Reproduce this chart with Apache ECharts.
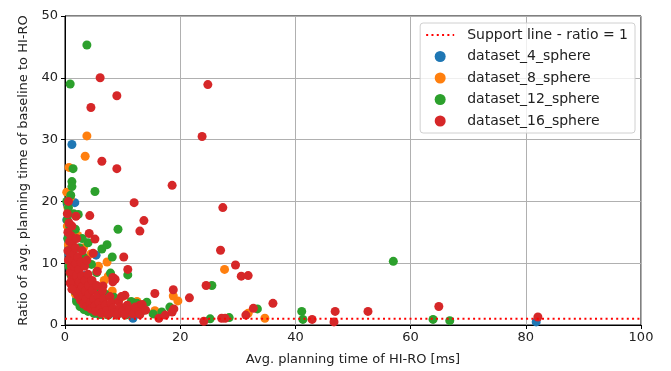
<!DOCTYPE html>
<html>
<head>
<meta charset="utf-8">
<script src="https://cdn.jsdelivr.net/npm/echarts@6/dist/echarts.min.js"></script>
<style>
  html, body { margin: 0; padding: 0; background: #fff; }
  #panel { width: 671px; height: 371px; }
</style>
</head>
<body>
<div id="panel"></div>
<script>
var seriesNames = ['dataset_4_sphere', 'dataset_8_sphere', 'dataset_12_sphere', 'dataset_16_sphere'];
var supportName = 'Support line - ratio = 1';
var supportLine = [[0, 1], [100, 1]];

var blue = [
  [1.2,29.2],[1.7,19.8],[11.8,1.1],[81.8,0.5],[5.4,11.3],[7.8,1.8],[0.3,17],[0.5,14],[0.7,11.5],
  [0.9,9],[1.2,7],[1.3,6],[2.0,4.2],[2.8,3.2],[4.0,2.4],[5.2,1.9],[6.5,1.7],[9.0,1.7],[3.5,8],
  [2.5,10],[4.5,6],[1.0,16],[0.4,19.5]
];
var orange = [
  [3.8,30.6],[3.5,27.3],[0.7,25.5],[0.9,20.6],[0.5,19],[27.7,9.0],[34.7,1.1],[31.8,1.9],[18.8,4.7],
  [19.6,3.9],[8.2,5.5],[15.6,2.3],[7.3,10.2],[7.5,7.9],[8.7,2.3],
  [0.3,21.5],[0.4,16],[0.6,13],[0.8,10],[1.1,8],[1.2,6.5],[1.8,5.0],[2.5,3.8],[3.3,2.9],[4.2,2.4],
  [5.5,2.0],[7.0,1.8],[9.5,2.0],[11.0,2.8],[12.5,3.8],[6.8,7.2],[5.8,9.5],[4.5,11.5],[3.2,12.5],
  [2.2,14.5],[10.0,4.6],[6.0,3.5]
];
var green = [
  [0.9,39.0],[3.8,45.3],[5.2,21.6],[1.4,25.3],[1.2,23.2],[1.2,22.4],[57,10.3],[25.5,6.4],[41.1,2.2],
  [41.3,0.9],[63.9,0.9],[66.8,0.7],[33.4,2.6],[25.2,1.0],[28.5,1.2],
  [0.3,20],[0.4,17],[0.5,14],[0.6,19],[0.8,16],[1.0,21],[0.6,12],[0.7,9.5],[1.0,8.2],[1.3,6.8],
  [1.7,5.5],[2.0,3.8],[2.6,3.0],[3.3,2.5],[4.0,2.2],[5.0,1.9],[6.0,1.7],[7.5,1.6],[9.0,1.6],[10.5,1.6],
  [11.6,3.1],[13.4,2.3],[14.2,3.7],[15.3,1.8],[16.8,2.1],[18.2,2.9],[2.5,12.5],[3.2,11.0],[4.0,13.3],
  [4.6,9.8],[5.5,8.5],[6.4,12.3],[7.3,13.0],[7.9,8.4],[8.2,11],[9.2,15.5],[10.9,8.1],[6.0,6.0],
  [7.0,5.0],[8.5,4.5],[11.5,3.8],[12.5,3.5],[1.5,18.0],[2.3,17.9],[1.8,15.5],[3.0,14.0]
];
var red = [
  [6.1,40.0],[4.5,35.2],[9.0,37.1],[24.8,38.9],[23.8,30.5],[6.4,26.5],[9.0,25.3],[27.4,19.0],
  [12.0,19.8],[13.7,16.9],[18.6,22.6],[13.0,15.2],[27.0,12.1],[29.6,9.7],[30.6,7.9],[31.8,8.0],
  [4.3,17.7],[1.9,17.6],[18.8,5.7],[15.6,5.1],[21.6,4.4],[24.5,6.4],[36.1,3.5],[32.7,2.7],[31.4,1.6],
  [46.9,2.2],[52.6,2.2],[42.9,0.9],[46.7,0.5],[64.9,3.0],[82.1,1.3],[24.1,0.6],[27.2,1.1],[27.8,1.1],
  [16.3,1.1],[17.4,1.6],[18.6,2.1],[18.9,2.6],[10.4,4.8],[10.9,9.0],[10.2,11.0],[8.7,7.4],[8.3,7.0],
  [6.6,6.3],[4.2,14.8],[5.2,13.9],[4.9,11.6],[5.6,8.7],[8.3,7.7],[13.0,3.2],
  [0.4,18],[0.5,15],[0.5,12],[0.6,10.5],[0.7,16.5],[0.8,13.5],[0.9,11],[0.9,8.5],[1.0,14.5],
  [1.1,12],[1.1,9.5],[1.2,7.5],[1.3,10.5],[1.3,13],[1.4,8.5],[1.5,6.5],[1.5,11.5],[1.6,9.5],
  [1.7,7.5],[1.8,5.5],[1.8,12.5],[1.9,10],[2.0,8],[2.1,6.5],[2.2,4.8],[2.2,11],[2.4,9],[2.5,7],
  [2.6,5.5],[2.7,4],[2.8,10.2],[2.9,8],[3.0,6.2],[3.1,4.8],[3.2,3.4],[3.4,9.5],[3.5,7.2],[3.6,5.5],
  [3.7,4.2],[3.8,3],[4.0,8.2],[4.1,6.4],[4.2,5],[4.4,3.6],[4.5,2.6],[4.7,7.2],[4.8,5.6],[5.0,4.2],
  [5.2,3.1],[5.3,2.2],[5.5,6.4],[5.7,4.8],[5.9,3.6],[6.1,2.6],[6.3,1.9],[6.5,5.5],[6.7,4.2],
  [7.0,3.2],[7.2,2.3],[7.5,1.7],[7.8,4.6],[8.0,3.6],[8.3,2.7],[8.6,2],[9.0,1.6],[9.3,3.8],[9.6,2.9],
  [10.0,2.2],[10.4,1.7],[10.8,3.2],[11.2,2.5],[11.8,1.8],[12.2,2.9],[12.8,2.2],[13.4,3.3],[13.0,1.7],
  [14.0,2.4],[9.8,4.6],[2.0,14],[1.2,16],[0.6,20],[3.0,12],[3.8,10.5],[0.9,6.8],[1.2,5.8]
];

var colors = ['#1f77b4', '#ff7f0e', '#2ca02c', '#d62728'];
var pointSets = [blue, orange, green, red];

var myChart = echarts.init(document.getElementById('panel'));

var series = pointSets.map(function (pts, i) {
  return {
    name: seriesNames[i],
    type: 'scatter',
    data: pts,
    symbolSize: 9,
    itemStyle: { color: colors[i], opacity: 1 },
    z: 2 + i
  };
});
series.push({
  name: supportName,
  type: 'line',
  data: supportLine,
  symbol: 'none',
  z: 10,
  itemStyle: { color: '#ff0000' },
  lineStyle: { color: '#ff0000', width: 2, type: [2, 3.3] }
});

var axisText = { color: '#222', fontSize: 13, fontFamily: 'DejaVu Sans' };

myChart.setOption({
  backgroundColor: '#fff',
  animation: false,
  grid: {
    left: 65, right: 30, top: 16, bottom: 45,
    show: true, borderColor: '#000', borderWidth: 1
  },
  legend: {
    orient: 'vertical',
    right: 36, top: 23,
    data: [
      { name: supportName, itemStyle: { opacity: 0 } },
      { name: seriesNames[0], icon: 'circle' },
      { name: seriesNames[1], icon: 'circle' },
      { name: seriesNames[2], icon: 'circle' },
      { name: seriesNames[3], icon: 'circle' }
    ],
    itemWidth: 28, itemHeight: 11, itemGap: 7.5,
    padding: [5, 7, 5, 5],
    borderColor: '#d0d0d0', borderWidth: 1, borderRadius: 3,
    backgroundColor: 'rgba(255,255,255,0.8)',
    textStyle: { color: '#222', fontSize: 14, fontFamily: 'DejaVu Sans', padding: [0, 0, 0, 8] }
  },
  xAxis: {
    type: 'value', min: 0, max: 100, interval: 20,
    name: 'Avg. planning time of HI-RO [ms]',
    nameLocation: 'middle', nameGap: 28,
    nameTextStyle: axisText,
    axisLine: { show: true, lineStyle: { color: '#000' } },
    axisTick: { show: true, length: 4, lineStyle: { color: '#000' } },
    axisLabel: Object.assign({ margin: 6 }, axisText),
    splitLine: { show: true, lineStyle: { color: '#b0b0b0', width: 1 } }
  },
  yAxis: {
    type: 'value', min: 0, max: 50, interval: 10,
    name: 'Ratio of avg. planning time of baseline to HI-RO',
    nameLocation: 'middle', nameGap: 34,
    nameTextStyle: axisText,
    axisLine: { show: true, lineStyle: { color: '#000' } },
    axisTick: { show: true, length: 4, lineStyle: { color: '#000' } },
    axisLabel: Object.assign({ margin: 7 }, axisText),
    splitLine: { show: true, lineStyle: { color: '#b0b0b0', width: 1 } }
  },
  series: series
});
</script>
</body>
</html>
